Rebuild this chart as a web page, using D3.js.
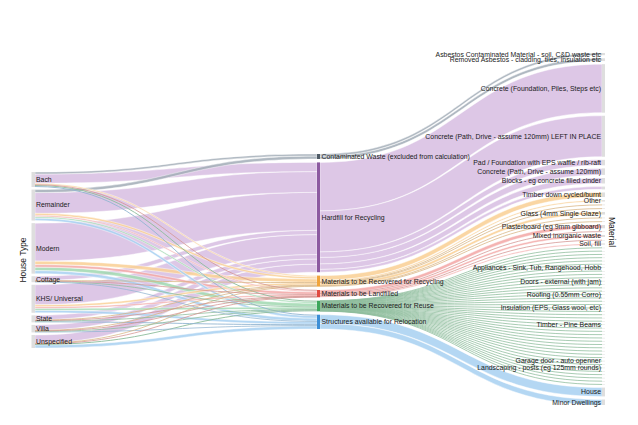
<!DOCTYPE html>
<html>
<head>
<meta charset="utf-8">
<script src="https://cdn.jsdelivr.net/npm/d3@7"></script>
<style>
  body { margin: 0; background: #fff; }
  svg { display: block; font-family: "Liberation Sans", Arial, Helvetica, sans-serif; }
</style>
</head>
<body>
<svg id="chart"></svg>
<script>
const width = 638;
const height = 425;

const houseTypes = ["Bach", "Remainder", "Modern", "Cottage", "KHS/ Universal", "State", "Villa", "Unspecified"];

const categories = [
  "Contaminated Waste (excluded from calculation)",
  "Hardfill for Recycling",
  "Materials to be Recovered for Recycling",
  "Materials to be Landfilled",
  "Materials to be Recovered for Reuse",
  "Structures available for Relocation"
];
const linkColors = ["#a4aeb8", "#d8bfe2", "#f9d096", "#f3a9a7", "#a3d9b3", "#aad2f1"];
const barColors = ["#4f5b66", "#8c5aa0", "#f0a43c", "#e04a42", "#3ea65c", "#3d8fd6"];

// flow from each house type (same order as houseTypes) into each category
const contaminatedByHouse = [2, 3, 0, 0, 0, 0, 0, 0];
const hardfillByHouse = [9.2, 20.8, 38, 4.2, 20, 4.4, 5.2, 8];
const recyclingByHouse = [1.2, 2, 3.5, 0.5, 2, 0.6, 0.6, 0.6];
const landfillByHouse = [0.6, 1.2, 2.5, 0.3, 1.5, 0.4, 0.4, 0.4];
const reuseByHouse = [1, 1.5, 3.5, 0.5, 2, 0.6, 0.5, 1];
const relocationByHouse = [1, 2.5, 3, 0.5, 2.5, 1, 0.8, 3];

// materials per category, top to bottom ("" = unlabelled item)
const contaminatedMaterials = ["Asbestos Contaminated Material - soil, C&D waste etc", "Removed Asbestos - cladding, tiles, insulation etc"];
const contaminatedAmounts = [2.2, 2.8];
const hardfillMaterials = ["Concrete (Foundation, Piles, Steps etc)", "Concrete (Path, Drive - assume 120mm) LEFT IN PLACE",
  "Pad / Foundation with EPS waffle / rib-raft", "Concrete (Path, Drive - assume 120mm)", "Blocks - eg  concrete filled cinder", ""];
const hardfillAmounts = [48.5, 41, 5.5, 6.5, 5.5, 2.8];
const recyclingMaterials = ["Timber down cycled/burnt", "Other", "", "", "Glass (4mm Single Glaze)", "", ""];
const recyclingAmounts = [4.6, 1.4, 0.6, 0.6, 2.6, 0.6, 0.6];
const landfillMaterials = ["Plasterboard (eg 9mm gibboard)", "", "Mixed inorganic waste", "", "Soil, fill"];
const landfillAmounts = [3.3, 0.5, 2.0, 0.3, 1.2];
const reuseMaterials = ["", "", "", "", "", "", "Appliances - Sink, Tub, Rangehood, Hobb", "", "", "",
  "Doors - external (with jam)", "", "", "", "Roofing (0.55mm Corro)", "", "", "", "Insulation (EPS, Glass wool, etc)", "",
  "", "", "", "Timber - Pine Beams", "", "", "", "", "", "",
  "", "", "", "", "Garage door - auto openner", "", "Landscaping - posts (eg 125mm rounds)", "", "", "",
  "", ""];
const reuseAmounts = [0.2, 0.25, 0.2, 0.15, 0.2, 0.2, 0.5, 0.2, 0.25, 0.2,
  0.5, 0.2, 0.2, 0.15, 0.5, 0.2, 0.25, 0.2, 0.5, 0.2,
  0.2, 0.15, 0.2, 0.5, 0.2, 0.2, 0.25, 0.2, 0.2, 0.2,
  0.15, 0.2, 0.2, 0.25, 0.5, 0.2, 0.5, 0.2, 0.2, 0.15,
  0.2, 0.2];
const relocationMaterials = ["House", "Minor Dwellings"];
const relocationAmounts = [8.8, 5.5];

const flowsByCategory = [contaminatedByHouse, hardfillByHouse, recyclingByHouse, landfillByHouse, reuseByHouse, relocationByHouse];
const materialsByCategory = [contaminatedMaterials, hardfillMaterials, recyclingMaterials, landfillMaterials, reuseMaterials, relocationMaterials];
const amountsByCategory = [contaminatedAmounts, hardfillAmounts, recyclingAmounts, landfillAmounts, reuseAmounts, relocationAmounts];

// layout settings
const columns = [
  { x0: 31.5, x1: 35, top: 172, bottom: 348 },
  { x0: 317, x1: 320, top: 154, bottom: 329 },
  { x0: 602, x1: 605, top: 53, bottom: 405 }
];

const svg = d3.select("#chart").attr("width", width).attr("height", height);
svg.append("rect").attr("width", width).attr("height", height).attr("fill", "#fff");

const totalFlow = d3.sum(flowsByCategory, f => d3.sum(f));
const flowHeight = d3.scaleLinear().domain([0, totalFlow]).range([0, 158]);

function makeNode(name, col, cat) {
  return { name, col, cat, value: 0, sourceLinks: [], targetLinks: [] };
}

const leftNodes = houseTypes.map(name => makeNode(name, 0, -1));
const midNodes = categories.map((name, c) => makeNode(name, 1, c));
const rightNodes = [];
materialsByCategory.forEach((list, c) => {
  list.forEach((name, k) => {
    const n = makeNode(name, 2, c);
    n.amount = amountsByCategory[c][k];
    rightNodes.push(n);
  });
});

const links = [];
function addLink(source, target, value, cat) {
  const l = { source, target, value, cat };
  source.sourceLinks.push(l);
  target.targetLinks.push(l);
  links.push(l);
}

flowsByCategory.forEach((f, c) => {
  f.forEach((v, h) => { if (v > 0) addLink(leftNodes[h], midNodes[c], v, c); });
});
rightNodes.forEach(n => addLink(midNodes[n.cat], n, n.amount, n.cat));

const allNodes = leftNodes.concat(midNodes, rightNodes);
allNodes.forEach(n => {
  n.value = Math.max(d3.sum(n.sourceLinks, l => l.value), d3.sum(n.targetLinks, l => l.value));
});

function layoutColumn(nodes, col) {
  const c = columns[col];
  const used = d3.sum(nodes, n => flowHeight(n.value));
  const pad = (c.bottom - c.top - used) / (nodes.length - 1);
  let y = c.top;
  nodes.forEach(n => {
    n.x0 = c.x0;
    n.x1 = c.x1;
    n.y0 = y;
    n.y1 = y + flowHeight(n.value);
    y = n.y1 + pad;
  });
}
layoutColumn(leftNodes, 0);
layoutColumn(midNodes, 1);
layoutColumn(rightNodes, 2);

allNodes.forEach(n => {
  n.sourceLinks.sort((a, b) => a.target.y0 - b.target.y0);
  n.targetLinks.sort((a, b) => a.source.y0 - b.source.y0);
  let sy = n.y0;
  n.sourceLinks.forEach(l => { l.w = flowHeight(l.value); l.sy = sy; sy += l.w; });
  let ty = n.y0;
  n.targetLinks.forEach(l => { l.ty = ty; ty += flowHeight(l.value); });
});

function ribbon(l) {
  const x0 = l.source.x1, x1 = l.target.x0, xm = (x0 + x1) / 2;
  const p = d3.path();
  p.moveTo(x0, l.sy);
  p.bezierCurveTo(xm, l.sy, xm, l.ty, x1, l.ty);
  p.lineTo(x1, l.ty + l.w);
  p.bezierCurveTo(xm, l.ty + l.w, xm, l.sy + l.w, x0, l.sy + l.w);
  p.closePath();
  return p.toString();
}

const thinLink = d3.linkHorizontal()
  .source(l => [l.source.x1, l.sy + l.w / 2])
  .target(l => [l.target.x0, l.ty + l.w / 2]);

const sorted = links.slice().sort((a, b) => b.w - a.w);

const linkG = svg.append("g");
sorted.forEach(l => {
  if (l.w >= 1) {
    linkG.append("path")
      .attr("d", ribbon(l))
      .attr("fill", linkColors[l.cat])
      .attr("fill-opacity", 0.88)
      .attr("stroke", "#fff")
      .attr("stroke-width", 0.45);
  } else {
    linkG.append("path")
      .attr("d", thinLink(l))
      .attr("fill", "none")
      .attr("stroke", d3.color(linkColors[l.cat]).darker(0.4))
      .attr("stroke-opacity", 0.9)
      .attr("stroke-width", Math.max(l.w, 0.85));
  }
});

// nodes
svg.append("g").selectAll("rect")
  .data(allNodes)
  .join("rect")
  .attr("x", d => d.x0)
  .attr("y", d => d.y0)
  .attr("width", d => d.x1 - d.x0)
  .attr("height", d => Math.max(d.y1 - d.y0, 0.5))
  .attr("fill", d => d.col === 1 ? barColors[d.cat] : "#dedede");

// labels
const labelG = svg.append("g").attr("font-size", 6.9).attr("fill", "#1a1a1a");
leftNodes.forEach(n => {
  labelG.append("text").attr("x", n.x1 + 1).attr("y", (n.y0 + n.y1) / 2).attr("dy", "0.35em").text(n.name);
});
midNodes.forEach(n => {
  labelG.append("text").attr("x", n.x1 + 1.5).attr("y", (n.y0 + n.y1) / 2).attr("dy", "0.35em").text(n.name);
});
rightNodes.filter(n => n.name).forEach(n => {
  labelG.append("text").attr("x", n.x0 - 1).attr("y", (n.y0 + n.y1) / 2).attr("dy", "0.35em")
    .attr("text-anchor", "end").text(n.name);
});

// axis titles
svg.append("text")
  .attr("transform", "translate(23,260) rotate(-90)")
  .attr("text-anchor", "middle").attr("dy", "0.35em")
  .attr("font-size", 8.5).attr("fill", "#1a1a1a")
  .text("House Type");
svg.append("text")
  .attr("transform", "translate(612,232) rotate(90)")
  .attr("text-anchor", "middle").attr("dy", "0.35em")
  .attr("font-size", 8.5).attr("fill", "#1a1a1a")
  .text("Material");
</script>
</body>
</html>
